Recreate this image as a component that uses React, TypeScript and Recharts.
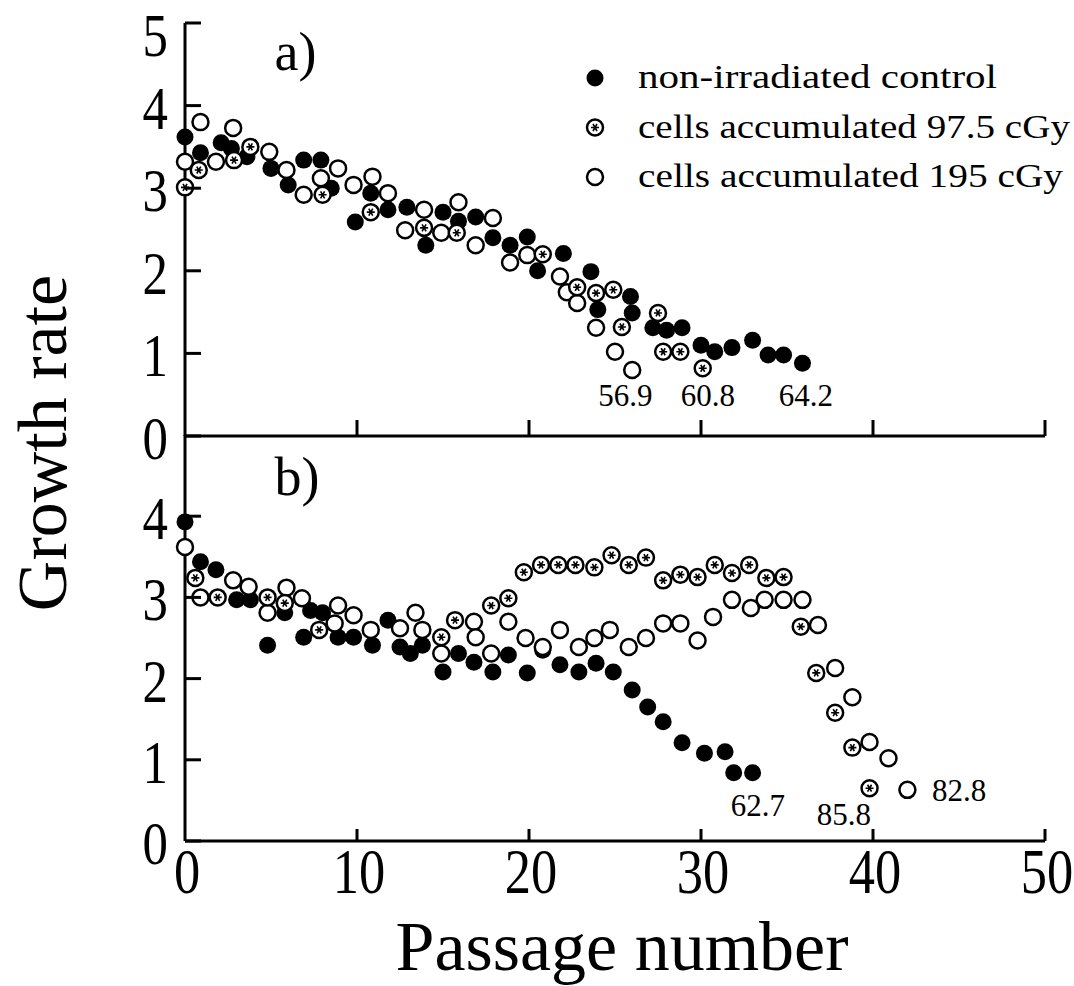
import React from 'react';
import { ScatterChart, Scatter, XAxis, YAxis, Legend, Label } from 'recharts';

// ---------- data (passage number, growth rate) ----------
const passageTicks = [0, 10, 20, 30, 40, 50];
const rateTicksTop = [0, 1, 2, 3, 4, 5];
const rateTicksBottom = [0, 1, 2, 3, 4];

const seriesNames = [
  'non-irradiated control',
  'cells accumulated 97.5 cGy',
  'cells accumulated 195 cGy',
];

// panel a)
const topControl: [number, number][] = [
  [0, 3.62], [0.9, 3.43], [2.1, 3.55], [2.7, 3.48], [3.6, 3.38], [5, 3.24], [6, 3.04], [6.9, 3.34],
  [7.9, 3.34], [8.5, 3.0], [9.9, 2.59], [10.8, 2.94], [11.8, 2.74], [12.9, 2.77], [14, 2.31], [15, 2.71],
  [15.9, 2.6], [16.9, 2.65], [17.9, 2.4], [18.9, 2.31], [19.9, 2.41], [20.5, 2.0], [22, 2.21], [23.6, 1.99],
  [24, 1.53], [25.9, 1.69], [26, 1.49], [27.2, 1.31], [28, 1.28], [28.9, 1.31], [30, 1.1], [30.8, 1.02],
  [31.8, 1.07], [33, 1.16], [33.9, 0.98], [34.8, 0.98], [35.9, 0.88],
];
const top975: [number, number][] = [
  [0, 3.01], [0.8, 3.22], [2.85, 3.34], [3.8, 3.5], [8, 2.92], [10.8, 2.71], [13.9, 2.52], [15.8, 2.46],
  [20.8, 2.2], [22.8, 1.8], [23.9, 1.73], [24.9, 1.77], [25.4, 1.32], [27.5, 1.49], [27.8, 1.02],
  [28.8, 1.02], [30.1, 0.82],
];
const top195: [number, number][] = [
  [0, 3.32], [0.9, 3.8], [1.8, 3.32], [2.8, 3.73], [4.9, 3.44], [5.9, 3.22], [6.9, 2.92], [7.9, 3.12],
  [8.9, 3.24], [9.8, 3.04], [10.9, 3.14], [11.8, 2.94], [12.8, 2.49], [13.9, 2.74], [14.9, 2.46],
  [15.9, 2.83], [16.9, 2.31], [17.9, 2.64], [18.9, 2.1], [19.9, 2.19], [21.8, 1.93], [22.2, 1.74],
  [22.8, 1.61], [23.9, 1.31], [25, 1.02], [26, 0.8],
];

// panel b)
const bottomControl: [number, number][] = [
  [0, 3.93], [0.9, 3.44], [1.8, 3.34], [3, 2.97], [3.8, 2.97], [4.8, 2.41], [5.8, 2.81], [6.9, 2.51],
  [7.3, 2.84], [8, 2.81], [8.9, 2.51], [9.8, 2.51], [10.9, 2.41], [11.8, 2.72], [12.5, 2.39], [13.1, 2.31],
  [13.8, 2.41], [15, 2.08], [15.9, 2.31], [16.8, 2.2], [17.9, 2.08], [18.8, 2.29], [19.9, 2.07],
  [20.8, 2.35], [21.8, 2.17], [22.9, 2.08], [23.9, 2.19], [24.9, 2.08], [26, 1.86], [26.9, 1.65],
  [27.8, 1.47], [28.9, 1.21], [30.2, 1.08], [31.4, 1.1], [31.9, 0.84], [33, 0.84],
];
const bottom975: [number, number][] = [
  [0.6, 3.24], [1.9, 3.0], [4.8, 3.0], [5.8, 2.93], [7.8, 2.6], [14.9, 2.51], [15.7, 2.72], [17.8, 2.9],
  [18.8, 2.99], [19.7, 3.31], [20.7, 3.4], [21.7, 3.4], [22.7, 3.4], [23.8, 3.37], [24.8, 3.52],
  [25.8, 3.4], [26.8, 3.49], [27.8, 3.21], [28.8, 3.28], [29.8, 3.25], [30.8, 3.4], [31.8, 3.3],
  [32.8, 3.4], [33.8, 3.24], [34.8, 3.25], [35.8, 2.64], [36.7, 2.07], [37.8, 1.58], [38.8, 1.15],
  [39.8, 0.65],
];
const bottom195: [number, number][] = [
  [0, 3.62], [0.9, 3.0], [2.8, 3.21], [3.7, 3.13], [4.8, 2.81], [5.9, 3.12], [6.8, 2.99], [8.7, 2.68],
  [8.9, 2.9], [9.8, 2.78], [10.8, 2.6], [12.5, 2.62], [13.4, 2.81], [13.8, 2.6], [14.9, 2.31], [16.8, 2.7],
  [16.9, 2.51], [17.8, 2.31], [18.8, 2.7], [19.8, 2.5], [20.8, 2.39], [21.8, 2.6], [22.9, 2.39],
  [23.8, 2.5], [24.7, 2.6], [25.8, 2.39], [26.8, 2.5], [27.8, 2.68], [28.8, 2.68], [29.8, 2.47],
  [30.7, 2.76], [31.8, 2.97], [32.9, 2.87], [33.7, 2.97], [34.8, 2.97], [35.9, 2.97], [36.8, 2.66],
  [37.8, 2.13], [38.8, 1.77], [39.8, 1.22], [40.9, 1.02], [42, 0.63],
];

// end-point annotations (final cumulative population doublings) and panel tags
const topNotes: [number, number, string][] = [[25.6, 0.48, '56.9'], [30.4, 0.48, '60.8'], [36.1, 0.48, '64.2']];
const bottomNotes: [number, number, string][] = [[33.3, 0.43, '62.7'], [38.3, 0.32, '85.8'], [45, 0.62, '82.8']];
const topTag: [number, number, string][] = [[5.2, 4.43, 'a)']];
const bottomTag: [number, number, string][] = [[5.2, 4.26, 'b)']];

// ---------- helpers ----------
const toPts = (a: [number, number][]) => a.map(([p, g]) => ({ p, g }));
const toNotes = (a: [number, number, string][]) => a.map(([p, g, t]) => ({ p, g, t }));

const FONT = '"Liberation Serif", "Times New Roman", serif';
const W = 1074;
const H = 986;

const FilledDot = (props: any) => <circle cx={props.cx} cy={props.cy} r={8.5} fill="#000" />;
const OpenDot = (props: any) => (
  <circle cx={props.cx} cy={props.cy} r={8} fill="#fff" stroke="#000" strokeWidth={2.5} />
);
const StarDot = (props: any) => {
  const { cx, cy } = props;
  const s = 4;
  return (
    <g>
      <circle cx={cx} cy={cy} r={8} fill="#fff" stroke="#000" strokeWidth={2.5} />
      <path
        d={`M${cx - s},${cy} L${cx + s},${cy} M${cx - s * 0.5},${cy - s * 0.87} L${cx + s * 0.5},${cy + s * 0.87} M${cx - s * 0.5},${cy + s * 0.87} L${cx + s * 0.5},${cy - s * 0.87}`}
        stroke="#000"
        strokeWidth={1.6}
      />
    </g>
  );
};

const NoteText = (props: any) => (
  <text x={props.cx} y={props.cy} dy={10} textAnchor="middle" fontFamily={FONT} fontSize={31} fill="#000">
    {props.payload.t}
  </text>
);
const TagText = (props: any) => (
  <text x={props.cx} y={props.cy} textAnchor="start" fontFamily={FONT} fontSize={54} fill="#000">
    {props.payload.t}
  </text>
);

const YTick = (props: any) => {
  const { x, y, payload } = props;
  const shift = payload.value === 5 ? 33 : 23;
  return (
    <g>
      <line x1={x} y1={y} x2={x + 16} y2={y} stroke="#000" strokeWidth={3} />
      <text
        transform={`translate(${x - 17}, ${y + shift}) scale(0.82, 1)`}
        textAnchor="end"
        fontFamily={FONT}
        fontSize={62}
        fill="#000"
      >
        {payload.value}
      </text>
    </g>
  );
};

const XTickTop = (props: any) => {
  const { x, y, payload } = props;
  if (payload.value === 0) return null;
  return <line x1={x} y1={y} x2={x} y2={y - 16} stroke="#000" strokeWidth={3} />;
};

const XTickBottom = (props: any) => {
  const { x, y, payload } = props;
  return (
    <g>
      {payload.value !== 0 && <line x1={x} y1={y} x2={x} y2={y - 12} stroke="#000" strokeWidth={3} />}
      <text
        transform={`translate(${x + 2}, ${y + 52}) scale(0.82, 1)`}
        textAnchor="middle"
        fontFamily={FONT}
        fontSize={64}
        fill="#000"
      >
        {payload.value}
      </text>
    </g>
  );
};

const LegendBox = () => {
  const rows = [
    { name: seriesNames[0], Shape: FilledDot, len: 359 },
    { name: seriesNames[1], Shape: StarDot, len: 432 },
    { name: seriesNames[2], Shape: OpenDot, len: 425 },
  ];
  return (
    <svg width={514} height={160} style={{ display: 'block' }}>
      {rows.map((r, i) => {
        const cy = 25 + i * 49.5;
        return (
          <g key={r.name}>
            <r.Shape cx={35} cy={cy} />
            <text
              x={78}
              y={cy + 10}
              fontFamily={FONT}
              fontSize={34}
              fill="#000"
              textLength={r.len}
              lengthAdjust="spacingAndGlyphs"
            >
              {r.name}
            </text>
          </g>
        );
      })}
    </svg>
  );
};

const YTitle = (props: any) => {
  const vb = props.viewBox || { x: 0, y: 23 };
  return (
    <text
      transform={`translate(${vb.x + 66}, ${vb.y + 420}) rotate(-90)`}
      textAnchor="middle"
      fontFamily={FONT}
      fontSize={70}
      fill="#000"
    >
      Growth rate
    </text>
  );
};

const XTitle = (props: any) => {
  const vb = props.viewBox || { x: 185, y: 841, width: 860 };
  return (
    <text
      x={vb.x + vb.width / 2 + 7}
      y={vb.y + 129}
      textAnchor="middle"
      fontFamily={FONT}
      fontSize={70}
      fill="#000"
    >
      Passage number
    </text>
  );
};

const axisLine = { stroke: '#000', strokeWidth: 3 };

export default function App() {
  return (
    <div style={{ position: 'absolute', left: 0, top: 0, width: W, height: H, background: '#fff' }}>
      {/* panel a) */}
      <div style={{ position: 'absolute', left: 0, top: 0 }}>
        <ScatterChart width={W} height={H} margin={{ top: 23, right: 29, bottom: 549, left: 0 }}>
          <XAxis
            type="number"
            dataKey="p"
            domain={[0, 50]}
            ticks={passageTicks}
            interval={0}
            height={1}
            tickSize={0}
            tickMargin={0}
            tickLine={false}
            axisLine={axisLine}
            tick={<XTickTop />}
          />
          <YAxis
            type="number"
            dataKey="g"
            domain={[0, 5]}
            ticks={rateTicksTop}
            interval={0}
            width={185}
            tickSize={0}
            tickMargin={0}
            tickLine={false}
            axisLine={axisLine}
            tick={<YTick />}
          >
            <Label content={<YTitle />} />
          </YAxis>
          <Legend
            layout="horizontal"
            verticalAlign="middle"
            align="center"
            content={<LegendBox />}
            wrapperStyle={{ position: 'absolute', left: 560, top: 53, width: 514, height: 160 }}
          />
          <Scatter name={seriesNames[0]} data={toPts(topControl)} shape={<FilledDot />} isAnimationActive={false} />
          <Scatter name={seriesNames[2]} data={toPts(top195)} shape={<OpenDot />} isAnimationActive={false} />
          <Scatter name={seriesNames[1]} data={toPts(top975)} shape={<StarDot />} isAnimationActive={false} />
          <Scatter data={toNotes(topNotes)} shape={<NoteText />} isAnimationActive={false} legendType="none" />
          <Scatter data={toNotes(topTag)} shape={<TagText />} isAnimationActive={false} legendType="none" />
        </ScatterChart>
      </div>
      {/* panel b) */}
      <div style={{ position: 'absolute', left: 0, top: 0 }}>
        <ScatterChart width={W} height={H} margin={{ top: 435, right: 29, bottom: 0, left: 0 }}>
          <XAxis
            type="number"
            dataKey="p"
            domain={[0, 50]}
            ticks={passageTicks}
            interval={0}
            height={145}
            tickSize={0}
            tickMargin={0}
            tickLine={false}
            axisLine={axisLine}
            tick={<XTickBottom />}
          >
            <Label content={<XTitle />} />
          </XAxis>
          <YAxis
            type="number"
            dataKey="g"
            domain={[0, 5]}
            ticks={rateTicksBottom}
            interval={0}
            width={185}
            tickSize={0}
            tickMargin={0}
            tickLine={false}
            axisLine={axisLine}
            tick={<YTick />}
          />
          <Scatter name={seriesNames[0]} data={toPts(bottomControl)} shape={<FilledDot />} isAnimationActive={false} />
          <Scatter name={seriesNames[2]} data={toPts(bottom195)} shape={<OpenDot />} isAnimationActive={false} />
          <Scatter name={seriesNames[1]} data={toPts(bottom975)} shape={<StarDot />} isAnimationActive={false} />
          <Scatter data={toNotes(bottomNotes)} shape={<NoteText />} isAnimationActive={false} legendType="none" />
          <Scatter data={toNotes(bottomTag)} shape={<TagText />} isAnimationActive={false} legendType="none" />
        </ScatterChart>
      </div>
    </div>
  );
}
